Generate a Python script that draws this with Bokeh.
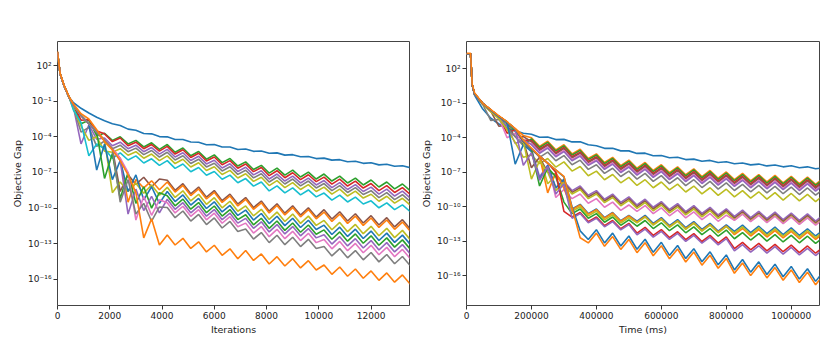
from bokeh.plotting import figure
from bokeh.models import Range1d, FixedTicker, NumeralTickFormatter, CustomJSTickFormatter
from bokeh.layouts import row
from bokeh.embed import file_html
from bokeh.resources import INLINE

# ---------------- data (log10 of objective gap) ----------------
ITER_X = [0, 100, 250, 450] + list(range(600, 13501, 300))
TIME_X = [0, 12500, 17500] + list(range(25000, 1100001, 25000))

Y_TICK_EXP = [2, -1, -4, -7, -10, -13, -16]
ITER_TICKS = [0, 2000, 4000, 6000, 8000, 10000, 12000]
TIME_TICKS = [0, 200000, 400000, 600000, 800000, 1000000]

START_I = [3.1, 1.3, 0.3, -0.7]

IT_BLUE_A = START_I + [-1.1, -1.6, -2.0, -2.35, -2.65, -2.9, -3.05, -3.35, -3.45, -3.72, -3.75, -3.98, -4.0, -4.22, -4.22, -4.43, -4.45, -4.66, -4.65, -4.86, -4.85, -5.06, -5.03, -5.22, -5.19, -5.38, -5.35, -5.54, -5.5, -5.68, -5.65, -5.83, -5.79, -5.96, -5.92, -6.1, -6.05, -6.23, -6.18, -6.36, -6.31, -6.48, -6.43, -6.6]
IT_GREEN_A = START_I + [-1.3, -2.9, -2.6, -3.9, -3.7, -4.3, -4.0, -4.6, -4.3, -4.85, -4.5, -5.05] + [-4.65, -5.3, -4.94, -5.59, -5.23, -5.88, -5.52, -6.17, -5.82, -6.46, -6.11, -6.75, -6.4, -7.05, -6.63, -7.22, -6.8, -7.38, -6.97, -7.55, -7.13, -7.72, -7.3, -7.88, -7.47, -8.05, -7.63, -8.22, -7.8, -8.38, -7.97, -8.55]
IT_RED_A = START_I + [-1.2, -2.6, -2.55, -3.5, -3.75, -4.4, -4.1, -4.75, -4.45, -5.0, -4.65, -5.2] + [-4.8, -5.45, -5.09, -5.74, -5.38, -6.03, -5.7, -6.35, -6.0, -6.64, -6.29, -6.93, -6.58, -7.27, -6.85, -7.44, -7.02, -7.6, -7.19, -7.77, -7.39, -7.98, -7.56, -8.14, -7.73, -8.31, -7.93, -8.52, -8.1, -8.68, -8.27, -8.85]
IT_PURPLE_A = START_I + [-1.4, -4.6, -3.0, -4.2, -4.1, -4.75, -4.45, -5.0, -4.7, -5.25, -4.9, -5.45] + [-5.05, -5.7, -5.34, -5.99, -5.63, -6.28, -5.97, -6.62, -6.27, -6.91, -6.56, -7.2, -6.85, -7.55, -7.13, -7.72, -7.3, -7.88, -7.47, -8.05, -7.68, -8.27, -7.85, -8.43, -8.02, -8.6, -8.23, -8.82, -8.4, -8.98, -8.57, -9.15]
IT_GRAY_A = START_I + [-1.5, -3.6, -3.2, -4.8, -4.35, -5.0, -4.7, -5.25, -4.95, -5.5, -5.15, -5.7] + [-5.3, -5.95, -5.59, -6.24, -5.88, -6.53, -6.22, -6.87, -6.52, -7.16, -6.81, -7.45, -7.1, -7.8, -7.38, -7.97, -7.55, -8.13, -7.72, -8.3, -7.93, -8.52, -8.1, -8.68, -8.27, -8.85, -8.53, -9.12, -8.7, -9.28, -8.87, -9.45]
IT_OLIVE_A = START_I + [-1.6, -3.1, -4.3, -4.0, -5.2, -5.3, -5.0, -5.55, -5.25, -5.8, -5.45, -6.0] + [-5.6, -6.25, -5.89, -6.54, -6.18, -6.83, -6.52, -7.17, -6.82, -7.46, -7.11, -7.75, -7.4, -8.1, -7.68, -8.27, -7.85, -8.43, -8.02, -8.6, -8.23, -8.82, -8.4, -8.98, -8.57, -9.15, -8.83, -9.42, -9.0, -9.58, -9.17, -9.75]
IT_CYAN_A = START_I + [-1.7, -2.8, -5.6, -4.6, -5.0, -5.8, -5.35, -5.95, -5.6, -6.2, -5.85, -6.4] + [-6.0, -6.65, -6.29, -6.94, -6.58, -7.23, -6.92, -7.57, -7.22, -7.86, -7.51, -8.15, -7.8, -8.55, -8.13, -8.72, -8.3, -8.88, -8.47, -9.05, -8.73, -9.32, -8.9, -9.48, -9.07, -9.65, -9.38, -9.97, -9.55, -10.13, -9.72, -10.3]

IT_BROWN_B = START_I + [-1.3, -2.2, -2.9, -3.6, -4.3, -5.0, -8.6, -7.2, -8.0, -7.4, -8.2, -7.55] + [-7.65, -8.50, -7.94, -8.79, -8.23, -9.08, -8.52, -9.37, -8.82, -9.66] + [-9.11, -9.95, -9.40, -10.25, -9.63, -10.42, -9.80, -10.58, -9.97, -10.75] + [-10.13, -10.92, -10.30, -11.08, -10.47, -11.25, -10.63, -11.42, -10.80, -11.58, -10.97, -11.75]
IT_ORANGE_B = START_I + [-1.3, -2.2, -2.9, -3.6, -4.3, -5.0, -5.8, -9.5, -7.6, -8.3, -7.7, -8.45] + [-7.80, -8.65, -8.09, -8.94, -8.38, -9.23, -8.67, -9.52, -8.97, -9.81] + [-9.26, -10.10, -9.55, -10.40, -9.78, -10.57, -9.95, -10.73, -10.12, -10.90] + [-10.33, -11.12, -10.50, -11.28, -10.67, -11.45, -10.83, -11.62, -11.00, -11.78, -11.17, -11.95]
IT_OLIVE_B = START_I + [-1.3, -2.2, -2.9, -3.6, -4.3, -8.7, -7.8, -8.6, -7.9, -8.75, -8.05, -8.9] + [-8.25, -9.10, -8.54, -9.39, -8.83, -9.68, -9.12, -9.97, -9.42, -10.26] + [-9.81, -10.65, -10.10, -10.95, -10.33, -11.12, -10.50, -11.28, -10.67, -11.45] + [-11.03, -11.82, -11.20, -11.98, -11.37, -12.15, -11.53, -12.32, -11.70, -12.48, -11.87, -12.65]
IT_BLUE_B = START_I + [-1.3, -2.2, -2.9, -6.8, -4.6, -7.6, -6.0, -8.6, -7.2, -9.3, -8.2, -9.6] + [-8.60, -9.45, -8.89, -9.74, -9.18, -10.03, -9.47, -10.32, -9.77, -10.61] + [-10.16, -11.00, -10.45, -11.30, -10.68, -11.47, -10.85, -11.63, -11.02, -11.80] + [-11.43, -12.22, -11.60, -12.38, -11.77, -12.55, -11.93, -12.72, -12.10, -12.88, -12.27, -13.05]
IT_GREEN_B = START_I + [-1.3, -2.2, -2.9, -3.6, -7.5, -5.4, -9.2, -7.0, -9.6, -8.2, -10.0, -8.7] + [-8.95, -9.80, -9.24, -10.09, -9.53, -10.38, -9.82, -10.67, -10.12, -10.96] + [-10.56, -11.40, -10.85, -11.70, -11.08, -11.87, -11.25, -12.03, -11.42, -12.20] + [-11.83, -12.62, -12.00, -12.78, -12.17, -12.95, -12.33, -13.12, -12.50, -13.28, -12.67, -13.45]
IT_PURPLE_B = START_I + [-1.3, -2.2, -2.9, -3.6, -4.3, -5.0, -6.0, -10.5, -8.4, -10.2, -9.0, -10.4] + [-9.25, -10.10, -9.54, -10.39, -9.83, -10.68, -10.12, -10.97, -10.42, -11.26] + [-10.86, -11.70, -11.15, -12.00, -11.38, -12.17, -11.55, -12.33, -11.72, -12.50] + [-12.23, -13.02, -12.40, -13.18, -12.57, -13.35, -12.73, -13.52, -12.90, -13.68, -13.07, -13.85]
IT_PINK_B = START_I + [-1.3, -2.2, -2.9, -3.6, -4.3, -5.0, -5.8, -7.0, -11.0, -9.0, -10.6, -9.3] + [-9.55, -10.40, -9.84, -10.69, -10.13, -10.98, -10.42, -11.27, -10.72, -11.56] + [-11.26, -12.10, -11.55, -12.40, -11.78, -12.57, -11.95, -12.73, -12.12, -12.90] + [-12.63, -13.42, -12.80, -13.58, -12.97, -13.75, -13.13, -13.92, -13.30, -14.08, -13.47, -14.25]
IT_GRAY_B = START_I + [-1.3, -2.2, -2.9, -3.6, -4.3, -5.0, -9.5, -7.6, -10.5, -9.6, -11.1, -9.9] + [-9.95, -10.80, -10.24, -11.09, -10.53, -11.38, -10.82, -11.67, -11.12, -11.96] + [-11.76, -12.60, -12.05, -12.90, -12.28, -13.07, -12.45, -13.23, -12.62, -13.40] + [-13.23, -14.02, -13.40, -14.18, -13.57, -14.35, -13.73, -14.52, -13.90, -14.68, -14.07, -14.85]
IT_ORANGE_C = [3.2, 1.35, 0.35, -0.65] + [-1.2, -2.05, -2.5, -3.4, -4.4, -5.1, -6.0, -7.2, -8.7, -12.5, -10.9, -13.1] + [-12.25, -13.10, -12.54, -13.39, -12.83, -13.68, -13.12, -13.97, -13.42, -14.26] + [-13.56, -14.40, -13.85, -14.70, -14.08, -14.87, -14.25, -15.03, -14.42, -15.20] + [-14.78, -15.57, -14.95, -15.73, -15.12, -15.90, -15.28, -16.07, -15.45, -16.23, -15.62, -16.4]

TM_BLUE_A = [3.3, 3.3, 0.6, -0.3, -1.5, -2.3, -2.8, -3.15, -3.4, -3.6, -3.69, -3.96, -3.94, -4.16, -4.14, -4.36, -4.34, -4.61, -4.69, -4.92, -4.91, -5.14, -5.14, -5.36, -5.34, -5.56, -5.54, -5.74, -5.7, -5.9, -5.86, -6.04, -5.97, -6.15, -6.09, -6.26, -6.19, -6.36, -6.29, -6.45, -6.37, -6.53, -6.44, -6.61, -6.53, -6.7, -6.62]
TM_ORANGE_A = [3.3, 3.3, 0.6, -0.2, -1.0, -1.6, -2.15, -2.7, -3.2, -3.8] + [-4.0, -4.75, -4.3, -5.05, -4.6, -5.4, -5.0, -5.8, -5.4, -6.15, -5.7, -6.42, -5.95, -6.65, -6.15, -6.85, -6.35, -7.04, -6.53, -7.22, -6.7, -7.38, -6.85, -7.52, -6.98, -7.64, -7.1, -7.75, -7.2, -7.84, -7.28, -7.92, -7.35, -7.99, -7.42, -8.05, -7.48]
TM_GREEN_A = [3.3, 3.3, 0.6, -0.2, -1.05, -1.65, -2.2, -2.8, -3.4, -4.6] + [-4.1, -4.85, -4.4, -5.15, -4.7, -5.5, -5.1, -5.9, -5.5, -6.25, -5.8, -6.52, -6.05, -6.75, -6.25, -6.95, -6.45, -7.14, -6.63, -7.32, -6.8, -7.48, -6.95, -7.62, -7.08, -7.74, -7.2, -7.85, -7.3, -7.94, -7.38, -8.02, -7.45, -8.09, -7.52, -8.15, -7.58]
TM_RED_A = [3.3, 3.3, 0.6, -0.2, -1.05, -1.65, -2.2, -3.6, -3.3, -4.2] + [-4.25, -5.0, -4.55, -5.3, -4.85, -5.65, -5.25, -6.05, -5.65, -6.4, -5.95, -6.67, -6.2, -6.9, -6.4, -7.1, -6.6, -7.29, -6.78, -7.47, -6.95, -7.63, -7.1, -7.77, -7.23, -7.89, -7.35, -8.0, -7.45, -8.09, -7.53, -8.17, -7.6, -8.24, -7.67, -8.3, -7.73]
TM_BROWN_A = [3.3, 3.3, 0.6, -0.2, -1.05, -1.7, -3.0, -2.9, -3.9, -3.9] + [-4.35, -5.1, -4.65, -5.4, -4.95, -5.75, -5.35, -6.15, -5.75, -6.5, -6.05, -6.77, -6.3, -7.0, -6.5, -7.2, -6.7, -7.39, -6.88, -7.57, -7.05, -7.73, -7.2, -7.87, -7.33, -7.99, -7.45, -8.1, -7.55, -8.19, -7.63, -8.27, -7.7, -8.34, -7.77, -8.4, -7.83]
TM_PINK_A = [3.3, 3.3, 0.6, -0.2, -1.05, -1.7, -2.3, -4.0, -3.6, -4.4] + [-4.5, -5.25, -4.8, -5.55, -5.1, -5.9, -5.5, -6.3, -5.9, -6.65, -6.2, -6.92, -6.45, -7.15, -6.65, -7.35, -6.85, -7.54, -7.03, -7.72, -7.2, -7.88, -7.35, -8.02, -7.48, -8.14, -7.6, -8.25, -7.7, -8.34, -7.78, -8.42, -7.85, -8.49, -7.92, -8.55, -7.98]
TM_PURPLE_A = [3.3, 3.3, 0.6, -0.2, -1.05, -1.7, -2.3, -3.0, -4.5, -4.2] + [-4.6, -5.35, -4.9, -5.65, -5.2, -6.0, -5.6, -6.4, -6.0, -6.75, -6.3, -7.02, -6.55, -7.25, -6.75, -7.45, -6.95, -7.64, -7.13, -7.82, -7.3, -7.98, -7.45, -8.12, -7.58, -8.24, -7.7, -8.35, -7.8, -8.44, -7.88, -8.52, -7.95, -8.59, -8.02, -8.65, -8.08]
TM_GRAY_A = [3.3, 3.3, 0.6, -0.2, -1.1, -2.5, -2.4, -3.2, -3.9, -4.7] + [-4.95, -5.7, -5.25, -6.0, -5.55, -6.35, -5.95, -6.75, -6.35, -7.1, -6.65, -7.37, -6.9, -7.6, -7.1, -7.8, -7.3, -7.99, -7.48, -8.17, -7.65, -8.33, -7.8, -8.47, -7.93, -8.59, -8.05, -8.7, -8.15, -8.79, -8.23, -8.87, -8.3, -8.94, -8.37, -9.0, -8.43]
TM_OLIVE_A = [3.3, 3.3, 0.6, -0.2, -1.1, -1.75, -2.35, -3.3, -4.4, -5.7] + [-5.5, -6.25, -5.8, -6.55, -6.1, -6.9, -6.5, -7.3, -6.9, -7.65, -7.2, -7.92, -7.45, -8.15, -7.65, -8.35, -7.85, -8.54, -8.03, -8.72, -8.2, -8.88, -8.35, -9.02, -8.48, -9.14, -8.6, -9.25, -8.7, -9.34, -8.78, -9.42, -8.85, -9.49, -8.92, -9.55, -8.98]

TM_PURPLE_B = [3.3, 3.3, 0.6, -0.2, -1.0, -1.6, -2.15, -2.65, -3.25, -4.3, -5.0, -7.4, -6.4, -8.3] + [-7.8, -8.6, -8.2, -9.0, -8.6, -9.35, -8.9, -9.62, -9.15, -9.85, -9.35, -10.05, -9.55, -10.24, -9.73, -10.42, -9.9, -10.58, -10.05, -10.72, -10.18, -10.84, -10.3, -10.95, -10.4, -11.04, -10.48, -11.12, -10.55, -11.19, -10.62, -11.25, -10.68]
TM_BROWN_B = [3.3, 3.3, 0.6, -0.2, -1.0, -1.6, -2.15, -2.65, -3.25, -4.3, -6.6, -5.7, -7.0, -7.2] + [-7.95, -8.75, -8.35, -9.15, -8.75, -9.5, -9.05, -9.77, -9.3, -10.0, -9.5, -10.2, -9.7, -10.39, -9.88, -10.57, -10.05, -10.73, -10.2, -10.87, -10.33, -10.99, -10.45, -11.1, -10.55, -11.19, -10.63, -11.27, -10.7, -11.34, -10.77, -11.4, -10.83]
TM_OLIVE_B = [3.3, 3.3, 0.6, -0.2, -1.0, -1.6, -2.15, -2.65, -3.25, -4.3, -5.0, -5.6, -8.0, -7.3] + [-8.1, -8.9, -8.5, -9.3, -8.9, -9.65, -9.2, -9.92, -9.45, -10.15, -9.65, -10.35, -9.85, -10.54, -10.03, -10.72, -10.2, -10.88, -10.35, -11.02, -10.48, -11.14, -10.6, -11.25, -10.7, -11.34, -10.78, -11.42, -10.85, -11.49, -10.92, -11.55, -10.98]
TM_PINK_B = [3.3, 3.3, 0.6, -0.2, -1.0, -1.6, -2.15, -2.65, -3.25, -4.3, -5.0, -5.6, -6.2, -9.2] + [-8.5, -9.3, -8.9, -9.7, -9.3, -10.05, -9.6, -10.32, -9.85, -10.4, -9.9, -10.6, -10.1, -10.79, -10.28, -10.97, -10.45, -11.13, -10.6, -11.27, -10.73, -11.19, -10.65, -11.3, -10.75, -11.39, -10.83, -11.47, -10.9, -11.54, -10.97, -11.6, -11.03]

TM_BLUE_C = [3.3, 3.3, 0.6, -0.2, -1.0, -1.6, -2.15, -2.65, -6.3, -4.6, -5.2, -7.6, -6.4, -8.4, -7.6] + [-10.2, -9.8, -10.6, -10.2, -10.95, -10.5, -11.22, -10.75] + [-11.25, -10.75, -11.45, -10.95, -11.64, -11.13, -11.82, -11.3, -11.98, -11.45, -12.12, -11.58] + [-12.14, -11.6, -12.25, -11.7, -12.34, -11.78, -12.42, -11.85, -12.49, -11.92, -12.55, -11.98]
TM_ORANGE_C = [3.3, 3.3, 0.6, -0.2, -1.0, -1.6, -2.15, -2.65, -3.25, -4.3, -5.0, -5.6, -8.8, -7.0, -8.4] + [-10.25, -9.85, -10.65, -10.25, -11.0, -10.55, -11.27, -10.8] + [-11.35, -10.85, -11.55, -11.05, -11.74, -11.23, -11.92, -11.4, -12.08, -11.55, -12.22, -11.68] + [-12.44, -11.9, -12.55, -12.0, -12.64, -12.08, -12.72, -12.15, -12.79, -12.22, -12.85, -12.28]
TM_OLIVE_C = [3.3, 3.3, 0.6, -0.2, -1.0, -1.6, -2.15, -2.65, -3.25, -4.3, -7.6, -6.0, -7.0, -8.6, -7.9] + [-10.4, -10.0, -10.8, -10.4, -11.15, -10.7, -11.42, -10.95] + [-11.4, -10.9, -11.6, -11.1, -11.79, -11.28, -11.97, -11.45, -12.13, -11.6, -12.27, -11.73] + [-12.29, -11.75, -12.4, -11.85, -12.49, -11.93, -12.57, -12.0, -12.64, -12.07, -12.7, -12.13]
TM_GREEN_C = [3.3, 3.3, 0.6, -0.2, -1.0, -1.6, -2.15, -2.65, -3.25, -4.3, -5.0, -8.2, -6.6, -7.4, -9.6] + [-10.6, -10.2, -11.0, -10.6, -11.35, -10.9, -11.62, -11.15] + [-11.7, -11.2, -11.9, -11.4, -12.09, -11.58, -12.27, -11.75, -12.43, -11.9, -12.57, -12.03] + [-12.79, -12.25, -12.9, -12.35, -12.99, -12.43, -13.07, -12.5, -13.14, -12.57, -13.2, -12.63]
TM_RED_C = [3.3, 3.3, 0.6, -0.2, -1.0, -1.6, -2.15, -2.65, -3.25, -4.3, -5.0, -5.6, -6.2, -7.0, -10.4] + [-10.9, -10.5, -11.3, -10.9, -11.65, -11.2, -11.92, -11.45] + [-12.3, -11.8, -12.5, -12.0, -12.69, -12.18, -12.87, -12.35, -13.03, -12.5, -13.17, -12.63] + [-13.64, -13.1, -13.75, -13.2, -13.84, -13.28, -13.92, -13.35, -13.99, -13.42, -14.05, -13.48]
TM_PURPLE_C = [3.3, 3.3, 0.6, -0.2, -1.0, -1.6, -2.15, -2.65, -3.25, -6.4, -5.3, -7.7, -6.5, -8.9, -8.0] + [-11.0, -10.6, -11.4, -11.0, -11.75, -11.3, -12.02, -11.55] + [-12.45, -11.95, -12.65, -12.15, -12.84, -12.33, -13.02, -12.5, -13.18, -12.65, -13.32, -12.78] + [-13.84, -13.3, -13.95, -13.4, -14.04, -13.48, -14.12, -13.55, -14.19, -13.62, -14.25, -13.68]

TM_BLUE_D = [3.3, 3.3, 0.6, -0.2, -1.0, -1.6, -2.15, -2.65, -3.25, -4.3, -5.0, -5.6, -6.2, -6.8, -7.4, -10.0, -12.1] + [-12.85, -12.0, -13.15, -12.3, -13.42, -12.55, -13.7, -12.83, -13.97, -13.1, -14.24, -13.38, -14.51, -13.65, -14.79, -13.93, -15.06, -14.2, -15.5, -14.6, -15.7, -14.8, -15.9, -15.0, -16.1, -15.2, -16.3, -15.4, -16.5, -15.6]
TM_ORANGE_D = [3.35, 3.35, 0.65, -0.1, -1.0, -1.55, -2.1, -2.6, -3.2, -4.2, -4.9, -5.6, -6.2, -6.8, -7.35, -10.1, -12.7] + [-13.15, -12.3, -13.45, -12.6, -13.72, -12.85, -14.0, -13.13, -14.27, -13.4, -14.54, -13.68, -14.81, -13.95, -15.09, -14.23, -15.36, -14.5, -15.8, -14.9, -16.0, -15.1, -16.2, -15.3, -16.4, -15.5, -16.6, -15.7, -16.8, -15.9]

BLUE, ORANGE, GREEN, RED, PURPLE = "#1f77b4", "#ff7f0e", "#2ca02c", "#d62728", "#9467bd"
BROWN, PINK, GRAY, OLIVE, CYAN = "#8c564b", "#e377c2", "#7f7f7f", "#bcbd22", "#17becf"

LEFT_LINES = [
    (IT_BLUE_A, BLUE), (IT_GREEN_A, GREEN), (IT_RED_A, RED), (IT_PURPLE_A, PURPLE),
    (IT_GRAY_A, GRAY), (IT_OLIVE_A, OLIVE), (IT_CYAN_A, CYAN),
    (IT_BROWN_B, BROWN), (IT_ORANGE_B, ORANGE), (IT_OLIVE_B, OLIVE), (IT_BLUE_B, BLUE),
    (IT_GREEN_B, GREEN), (IT_PURPLE_B, PURPLE), (IT_PINK_B, PINK), (IT_GRAY_B, GRAY),
    (IT_ORANGE_C, ORANGE),
]
RIGHT_LINES = [
    (TM_BLUE_A, BLUE), (TM_ORANGE_A, ORANGE), (TM_GREEN_A, GREEN), (TM_RED_A, RED),
    (TM_BROWN_A, BROWN), (TM_PINK_A, PINK), (TM_PURPLE_A, PURPLE), (TM_GRAY_A, GRAY),
    (TM_OLIVE_A, OLIVE),
    (TM_PURPLE_B, PURPLE), (TM_BROWN_B, BROWN), (TM_OLIVE_B, OLIVE), (TM_PINK_B, PINK),
    (TM_BLUE_C, BLUE), (TM_ORANGE_C, ORANGE), (TM_OLIVE_C, OLIVE), (TM_GREEN_C, GREEN),
    (TM_RED_C, RED), (TM_PURPLE_C, PURPLE),
    (TM_BLUE_D, BLUE), (TM_ORANGE_D, ORANGE),
]

SUP_JS = """
const sup = {"-": "\u207b", "0": "\u2070", "1": "\u00b9", "2": "\u00b2", "3": "\u00b3",
             "4": "\u2074", "5": "\u2075", "6": "\u2076", "7": "\u2077", "8": "\u2078", "9": "\u2079"};
const e = Math.round(Math.log10(tick));
return "10" + String(e).split("").map(c => sup[c]).join("");
"""


def make_panel(xs, lines, x_end, y_lo, y_hi, x_ticks, x_label, left_border, right_border, frame_w):
    p = figure(frame_width=frame_w, frame_height=264,
               x_range=Range1d(0, x_end), y_range=Range1d(10 ** y_lo, 10 ** y_hi),
               y_axis_type="log", output_backend="svg", toolbar_location=None,
               min_border_left=left_border, min_border_right=right_border,
               min_border_top=41, min_border_bottom=36)
    for vals, col in lines:
        p.line(xs, [10 ** v for v in vals], line_color=col, line_width=1.6)
    p.xgrid.visible = False
    p.ygrid.visible = False
    p.outline_line_color = "#444444"
    p.outline_line_width = 1
    p.xaxis.ticker = FixedTicker(ticks=x_ticks)
    p.xaxis.formatter = NumeralTickFormatter(format="0")
    p.yaxis.ticker = FixedTicker(ticks=[10.0 ** e for e in Y_TICK_EXP])
    p.yaxis.formatter = CustomJSTickFormatter(code=SUP_JS)
    p.xaxis.axis_label = x_label
    p.yaxis.axis_label = "Objective Gap"
    for ax in (p.xaxis, p.yaxis):
        ax.axis_line_color = None
        ax.major_tick_in = 0
        ax.major_tick_out = 4
        ax.major_tick_line_color = "#333333"
        ax.minor_tick_line_color = None
        ax.major_label_text_font = "DejaVu Sans"
        ax.major_label_text_font_size = "9px"
        ax.major_label_text_color = "#222222"
        ax.major_label_standoff = 2
        ax.axis_label_text_font = "DejaVu Sans"
        ax.axis_label_text_font_size = "9.5px"
        ax.axis_label_text_font_style = "normal"
        ax.axis_label_text_color = "#222222"
        ax.axis_label_standoff = 2
    p.background_fill_color = "white"
    p.border_fill_color = "white"
    return p


p1 = make_panel(ITER_X, LEFT_LINES, 13470, -18.19, 4.02, ITER_TICKS, "Iterations", 57, 8, 352)
p2 = make_panel(TIME_X, RIGHT_LINES, 1087000, -18.6, 4.38, TIME_TICKS, "Time (ms)", 49, 9, 353)

layout = row(p1, p2)
open("out.html", "w").write(file_html(layout, INLINE))
